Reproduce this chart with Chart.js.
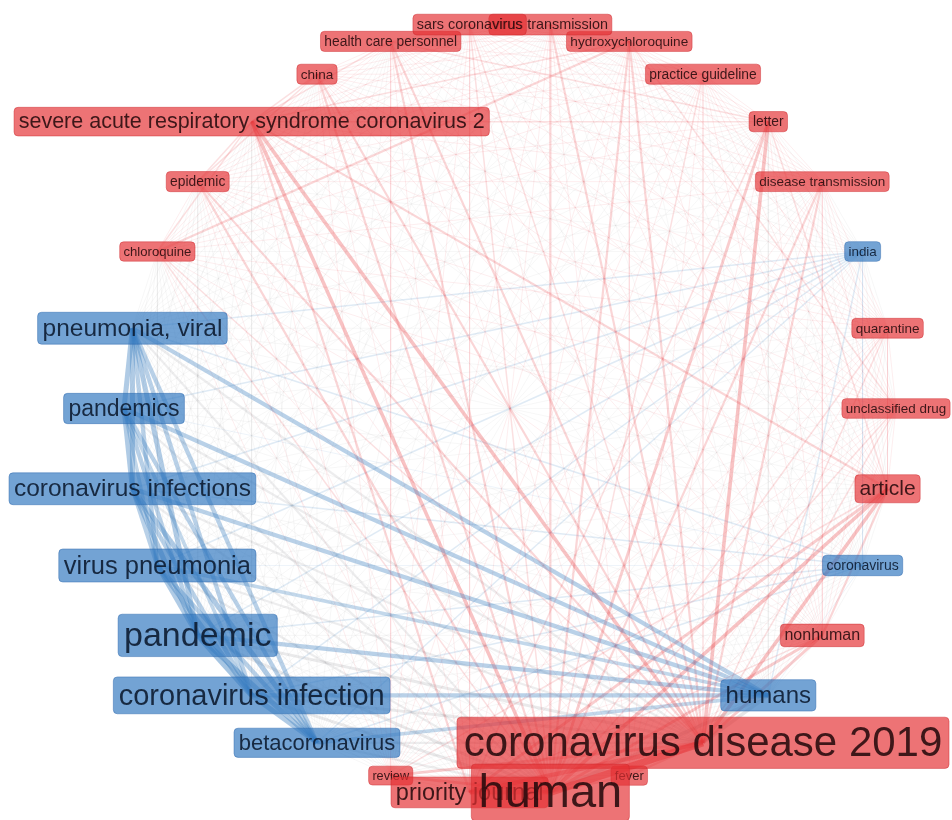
<!DOCTYPE html>
<html>
<head>
<meta charset="utf-8">
<script src="https://cdn.jsdelivr.net/npm/chart.js@4.4.1/dist/chart.umd.min.js"></script>
<style>
  html, body { margin: 0; padding: 0; background: #ffffff; }
  #wrap { width: 952px; height: 820px; }
</style>
</head>
<body>
<div id="wrap"><canvas id="net" width="952" height="820"></canvas></div>
<script>
// Keyword co-occurrence network, circular layout (terms placed counterclockwise from the east).
const terms = [
  "unclassified drug", "quarantine", "india", "disease transmission", "letter",
  "practice guideline", "hydroxychloroquine", "virus transmission", "sars coronavirus",
  "health care personnel", "china", "severe acute respiratory syndrome coronavirus 2",
  "epidemic", "chloroquine", "pneumonia, viral", "pandemics", "coronavirus infections",
  "virus pneumonia", "pandemic", "coronavirus infection", "betacoronavirus", "review",
  "priority journal", "human", "fever", "coronavirus disease 2019", "humans", "nonhuman",
  "coronavirus", "article"
];

const clusters = [
  "red", "red", "blue", "red", "red",
  "red", "red", "red", "red",
  "red", "red", "red",
  "red", "red", "blue", "blue", "blue",
  "blue", "blue", "blue", "blue", "red",
  "red", "red", "red", "red", "blue", "red",
  "blue", "red"
];

const occurrences = [
  98, 100, 98, 100, 105,
  104, 102, 113, 113,
  104, 102, 254,
  104, 94, 329, 290, 329,
  357, 634, 461, 266, 88,
  303, 1212, 93, 968, 316, 140,
  108, 242
];

// Link strengths between pairs of terms; every other pair co-occurs weakly.
const defaultLinkStrength = 1;
const links = [
  ["pneumonia, viral", "pandemics", 7],
  ["pneumonia, viral", "coronavirus infections", 7],
  ["pneumonia, viral", "virus pneumonia", 6],
  ["pneumonia, viral", "pandemic", 7],
  ["pneumonia, viral", "coronavirus infection", 6],
  ["pneumonia, viral", "betacoronavirus", 6],
  ["pneumonia, viral", "humans", 6],
  ["pandemics", "coronavirus infections", 7],
  ["pandemics", "virus pneumonia", 5],
  ["pandemics", "pandemic", 6],
  ["pandemics", "coronavirus infection", 5],
  ["pandemics", "betacoronavirus", 6],
  ["pandemics", "humans", 6],
  ["coronavirus infections", "virus pneumonia", 6],
  ["coronavirus infections", "pandemic", 7],
  ["coronavirus infections", "coronavirus infection", 6],
  ["coronavirus infections", "betacoronavirus", 7],
  ["coronavirus infections", "humans", 6],
  ["virus pneumonia", "pandemic", 7],
  ["virus pneumonia", "coronavirus infection", 7],
  ["virus pneumonia", "betacoronavirus", 6],
  ["virus pneumonia", "humans", 5],
  ["pandemic", "coronavirus infection", 8],
  ["pandemic", "betacoronavirus", 7],
  ["pandemic", "humans", 6],
  ["coronavirus infection", "betacoronavirus", 7],
  ["coronavirus infection", "humans", 6],
  ["betacoronavirus", "humans", 5],
  ["india", "pneumonia, viral", 2],
  ["india", "pandemics", 2],
  ["india", "coronavirus infections", 2],
  ["india", "virus pneumonia", 2],
  ["india", "pandemic", 2],
  ["india", "coronavirus infection", 2],
  ["india", "betacoronavirus", 2],
  ["india", "humans", 2],
  ["coronavirus", "pneumonia, viral", 2],
  ["coronavirus", "coronavirus infections", 2],
  ["coronavirus", "pandemic", 2],
  ["coronavirus", "coronavirus infection", 2],
  ["coronavirus", "betacoronavirus", 2],
  ["pandemic", "coronavirus disease 2019", 4],
  ["pandemic", "human", 4],
  ["coronavirus infection", "coronavirus disease 2019", 4],
  ["coronavirus infection", "human", 4],
  ["virus pneumonia", "coronavirus disease 2019", 3],
  ["virus pneumonia", "human", 3],
  ["coronavirus infections", "coronavirus disease 2019", 3],
  ["coronavirus infections", "human", 3],
  ["pneumonia, viral", "coronavirus disease 2019", 3],
  ["pneumonia, viral", "human", 3],
  ["pandemics", "coronavirus disease 2019", 3],
  ["pandemics", "human", 3],
  ["betacoronavirus", "coronavirus disease 2019", 3],
  ["betacoronavirus", "human", 3],
  ["humans", "coronavirus disease 2019", 5],
  ["humans", "human", 5],
  ["human", "coronavirus disease 2019", 10],
  ["severe acute respiratory syndrome coronavirus 2", "coronavirus disease 2019", 5],
  ["severe acute respiratory syndrome coronavirus 2", "human", 5],
  ["letter", "coronavirus disease 2019", 5],
  ["letter", "human", 4],
  ["article", "coronavirus disease 2019", 5],
  ["article", "human", 5],
  ["priority journal", "coronavirus disease 2019", 6],
  ["priority journal", "human", 6],
  ["review", "coronavirus disease 2019", 4],
  ["review", "human", 4],
  ["fever", "coronavirus disease 2019", 3],
  ["fever", "human", 3],
  ["nonhuman", "human", 4],
  ["nonhuman", "coronavirus disease 2019", 4],
  ["disease transmission", "human", 3],
  ["disease transmission", "coronavirus disease 2019", 3],
  ["hydroxychloroquine", "human", 3],
  ["hydroxychloroquine", "coronavirus disease 2019", 3],
  ["virus transmission", "human", 3],
  ["virus transmission", "coronavirus disease 2019", 3],
  ["sars coronavirus", "human", 2],
  ["sars coronavirus", "coronavirus disease 2019", 2],
  ["health care personnel", "human", 3],
  ["health care personnel", "coronavirus disease 2019", 3],
  ["china", "human", 3],
  ["china", "coronavirus disease 2019", 3],
  ["epidemic", "human", 3],
  ["epidemic", "coronavirus disease 2019", 3],
  ["chloroquine", "human", 2],
  ["chloroquine", "coronavirus disease 2019", 2],
  ["practice guideline", "human", 2],
  ["practice guideline", "coronavirus disease 2019", 2],
  ["quarantine", "human", 2],
  ["quarantine", "coronavirus disease 2019", 2],
  ["unclassified drug", "human", 2],
  ["unclassified drug", "coronavirus disease 2019", 2],
  ["article", "priority journal", 4],
  ["article", "severe acute respiratory syndrome coronavirus 2", 3],
  ["article", "nonhuman", 3],
  ["article", "review", 2],
  ["article", "letter", 2],
  ["priority journal", "severe acute respiratory syndrome coronavirus 2", 3],
  ["priority journal", "letter", 2],
  ["priority journal", "nonhuman", 2],
  ["severe acute respiratory syndrome coronavirus 2", "letter", 2],
  ["severe acute respiratory syndrome coronavirus 2", "epidemic", 2],
  ["severe acute respiratory syndrome coronavirus 2", "china", 2],
  ["severe acute respiratory syndrome coronavirus 2", "health care personnel", 2],
  ["severe acute respiratory syndrome coronavirus 2", "hydroxychloroquine", 2],
  ["severe acute respiratory syndrome coronavirus 2", "chloroquine", 2],
  ["hydroxychloroquine", "chloroquine", 3],
  ["hydroxychloroquine", "unclassified drug", 2],
  ["china", "epidemic", 2],
  ["letter", "health care personnel", 2]
];

// ---- layout: evenly spaced around a unit circle ----
const N = terms.length;
const nodeX = terms.map((_, i) => Math.cos(2 * Math.PI * i / N));
const nodeY = terms.map((_, i) => Math.sin(2 * Math.PI * i / N));

const pairKey = (i, j) => i < j ? i + "-" + j : j + "-" + i;
const strengthOf = {};
links.forEach(([a, b, s]) => { strengthOf[pairKey(terms.indexOf(a), terms.indexOf(b))] = s; });

const edges = [];
for (let i = 0; i < N; i++) {
  for (let j = i + 1; j < N; j++) {
    const s = strengthOf[pairKey(i, j)] ?? defaultLinkStrength;
    edges.push({ i, j, s });
  }
}
// index 0 is drawn last, so the strongest links sit on top
edges.sort((a, b) => b.s - a.s);

function edgeColor(i, j, s) {
  if (clusters[i] === clusters[j]) {
    const a = Math.min(0.5, 0.11 + (s - 1) * 0.05);
    return clusters[i] === "red" ? `rgba(232,62,66,${a})` : `rgba(62,128,192,${a})`;
  }
  const a = Math.min(0.3, 0.1 + (s - 1) * 0.035);
  return `rgba(150,150,156,${a})`;
}
const edgeWidth = s => 0.8 + (s - 1) * 0.7;

const edgeDatasets = edges.map(e => ({
  data: [{ x: nodeX[e.i], y: nodeY[e.i] }, { x: nodeX[e.j], y: nodeY[e.j] }],
  showLine: true,
  borderColor: edgeColor(e.i, e.j, e.s),
  borderWidth: edgeWidth(e.s),
  pointRadius: 0,
  pointHoverRadius: 0,
  tension: 0,
  fill: false
}));

const nodeDataset = {
  data: terms.map((_, i) => ({ x: nodeX[i], y: nodeY[i] })),
  pointRadius: 0,
  pointHoverRadius: 0,
  showLine: false
};
const datasets = edgeDatasets.concat([nodeDataset]);
const nodeIndex = datasets.length - 1;

function roundedBox(ctx, x, y, w, h, r) {
  ctx.beginPath();
  ctx.moveTo(x + r, y);
  ctx.lineTo(x + w - r, y);
  ctx.quadraticCurveTo(x + w, y, x + w, y + r);
  ctx.lineTo(x + w, y + h - r);
  ctx.quadraticCurveTo(x + w, y + h, x + w - r, y + h);
  ctx.lineTo(x + r, y + h);
  ctx.quadraticCurveTo(x, y + h, x, y + h - r);
  ctx.lineTo(x, y + r);
  ctx.quadraticCurveTo(x, y, x + r, y);
  ctx.closePath();
}

// term labels: boxed text sized by occurrences, drawn at each node
const termLabels = {
  id: "termLabels",
  afterDatasetsDraw(chart) {
    const ctx = chart.ctx;
    const meta = chart.getDatasetMeta(nodeIndex);
    const drawOrder = terms.map((_, i) => i).sort((a, b) => occurrences[a] - occurrences[b]);
    ctx.save();
    drawOrder.forEach(i => {
      const pt = meta.data[i];
      const red = clusters[i] === "red";
      const fs = 1.35 * Math.sqrt(occurrences[i]);
      ctx.font = `${fs.toFixed(1)}px "Liberation Sans", Arial, sans-serif`;
      const tw = ctx.measureText(terms[i]).width;
      const padX = 2.5 + 0.1 * fs;
      const w = tw + 2 * padX;
      const h = fs * 1.1 + 5;
      roundedBox(ctx, pt.x - w / 2, pt.y - h / 2, w, h, 4);
      ctx.fillStyle = red ? "rgba(229,48,52,0.68)" : "rgba(48,119,191,0.68)";
      ctx.fill();
      ctx.lineWidth = 1;
      ctx.strokeStyle = red ? "rgba(205,40,45,0.45)" : "rgba(40,100,170,0.45)";
      ctx.stroke();
      ctx.fillStyle = red ? "rgba(38,10,12,0.88)" : "rgba(10,24,44,0.88)";
      ctx.textAlign = "center";
      ctx.textBaseline = "middle";
      ctx.fillText(terms[i], pt.x, pt.y + fs * 0.04);
    });
    ctx.restore();
  }
};

const R = 386;
new Chart(document.getElementById("net"), {
  type: "scatter",
  data: { datasets },
  options: {
    responsive: false,
    animation: false,
    events: [],
    layout: { padding: 0 },
    plugins: { legend: { display: false }, tooltip: { enabled: false } },
    scales: {
      x: { type: "linear", display: false, min: -510 / R, max: 442 / R },
      y: { type: "linear", display: false, min: -411.5 / R, max: 408.5 / R }
    }
  },
  plugins: [termLabels]
});
</script>
</body>
</html>
